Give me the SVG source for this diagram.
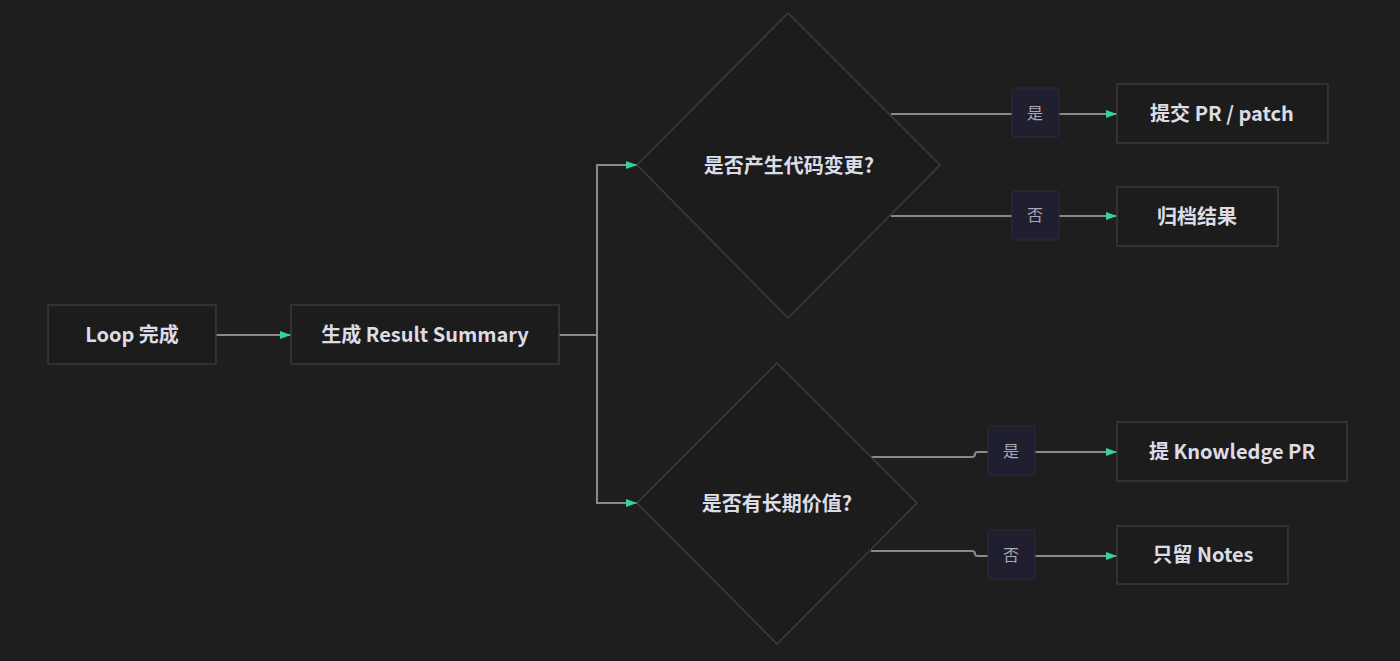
<svg xmlns="http://www.w3.org/2000/svg" width="1400" height="661" viewBox="0 0 1400 661">
<style>
.node{fill:#1c1c1c;stroke:#3a3a3a;stroke-width:1.5}
.dia{fill:#1c1c1c;stroke:#3c3c3c;stroke-width:1.5}
.t{font-family:"Noto Sans CJK SC","Noto Sans",sans-serif;font-size:20px;font-weight:bold;fill:#dcdce6;text-anchor:middle;dominant-baseline:central}
.lbl{fill:#1f1f30;stroke:#2c2c3c;stroke-width:1}
.lt{font-family:"Noto Sans CJK SC","Noto Sans",sans-serif;font-size:16px;fill:#a8a8b4;text-anchor:middle;dominant-baseline:central}
.e{fill:none;stroke:#8a8a8a;stroke-width:2}
</style>
<defs>
<marker id="ah" markerWidth="12" markerHeight="10" refX="11" refY="5" orient="auto" markerUnits="userSpaceOnUse">
<path d="M0,1 L11,5 L0,9 Z" fill="#34d399"/>
</marker>
</defs>
<rect width="1400" height="661" fill="#1e1e1e"/>
<g id="connectors">
<path class="e" d="M216,335 L291,335" marker-end="url(#ah)"/>
<path class="e" d="M559,335 L597,335 L597,165 L637,165" marker-end="url(#ah)"/>
<path class="e" d="M597,335 L597,503 L637,503" marker-end="url(#ah)"/>
<path class="e" d="M891,114 L1000,114 L1012,114"/>
<path class="e" d="M1059,114 L1117,114" marker-end="url(#ah)"/>
<path class="e" d="M891,216 L1000,216 L1012,216"/>
<path class="e" d="M1059,216 L1117,216" marker-end="url(#ah)"/>
<path class="e" d="M871,457 L972,457 Q975,457 975,454 Q975,452 978,452 L988,452"/>
<path class="e" d="M1035,452 L1117,452" marker-end="url(#ah)"/>
<path class="e" d="M871,551 L972,551 Q975,551 975,554 Q975,556 978,556 L988,556"/>
<path class="e" d="M1035,556 L1117,556" marker-end="url(#ah)"/>
</g>
<g id="n-loop"><rect class="node" x="48" y="305" width="168" height="59"/><text class="t" x="132" y="333">Loop 完成</text></g>
<g id="n-summary"><rect class="node" x="291" y="305" width="268" height="59"/><text class="t" x="425" y="333">生成 Result Summary</text></g>
<g id="n-d1"><polygon class="dia" points="788,13 940,165 788,318 637,165"/><text class="t" x="789" y="164">是否产生代码变更?</text></g>
<g id="n-d2"><polygon class="dia" points="777,363 917,503 777,644 637,503"/><text class="t" x="777" y="502">是否有长期价值?</text></g>
<g id="l-yes1"><rect class="lbl" x="1012" y="88" width="47" height="49" rx="3"/><text class="lt" x="1035" y="112">是</text></g>
<g id="l-no1"><rect class="lbl" x="1012" y="191" width="47" height="49" rx="3"/><text class="lt" x="1035" y="214">否</text></g>
<g id="l-yes2"><rect class="lbl" x="988" y="426" width="47" height="49" rx="3"/><text class="lt" x="1011" y="450">是</text></g>
<g id="l-no2"><rect class="lbl" x="988" y="530" width="47" height="49" rx="3"/><text class="lt" x="1011" y="554">否</text></g>
<g id="n-pr"><rect class="node" x="1117" y="84" width="211" height="59"/><text class="t" x="1222" y="112">提交 PR / patch</text></g>
<g id="n-archive"><rect class="node" x="1117" y="187" width="161" height="59"/><text class="t" x="1197" y="215">归档结果</text></g>
<g id="n-kpr"><rect class="node" x="1117" y="422" width="230" height="59"/><text class="t" x="1232" y="450">提 Knowledge PR</text></g>
<g id="n-notes"><rect class="node" x="1117" y="526" width="171" height="58"/><text class="t" x="1203" y="553">只留 Notes</text></g>
</svg>
